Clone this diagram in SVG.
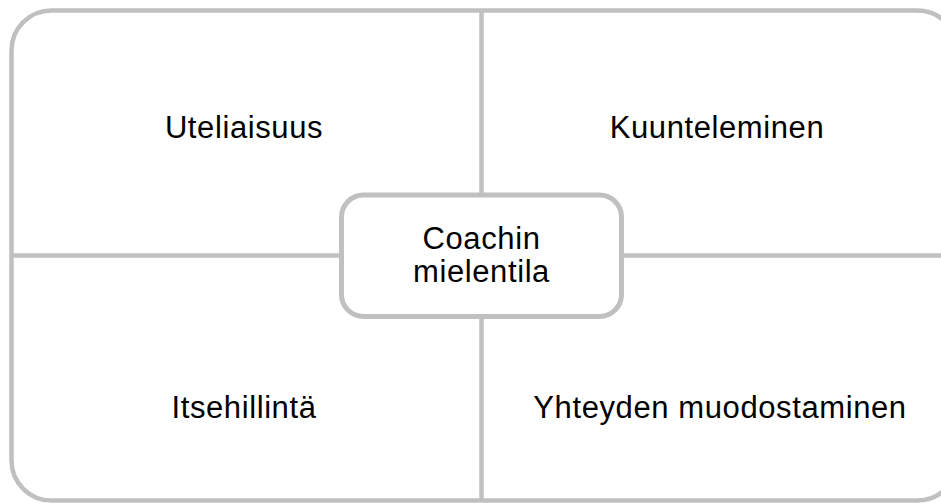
<svg xmlns="http://www.w3.org/2000/svg" width="941" height="503" viewBox="0 0 941 503">
<style>
.ln{stroke:#c0c0c0;stroke-width:4.5;fill:none}
.box{stroke:#c0c0c0;stroke-width:5;fill:#fff}
.t{font-family:"Liberation Sans",Arial,sans-serif;font-size:31px;letter-spacing:0.6px;fill:#000;text-anchor:middle}
</style>
<rect width="941" height="503" fill="#fff"/>
<g id="frame">
<rect class="ln" x="11.5" y="10.5" width="946" height="490" rx="40" ry="40"/>
</g>
<g id="connectors">
<line class="ln" x1="481.5" y1="10.5" x2="481.5" y2="500.5"/>
<line class="ln" x1="11.5" y1="255.5" x2="957.5" y2="255.5"/>
</g>
<g id="q1"><text class="t" x="244" y="138">Uteliaisuus</text></g>
<g id="q2"><text class="t" x="717" y="138">Kuunteleminen</text></g>
<g id="q3"><text class="t" x="244" y="418">Itsehillintä</text></g>
<g id="q4"><text class="t" x="720" y="418">Yhteyden muodostaminen</text></g>
<g id="center">
<rect class="box" x="341.5" y="195" width="280" height="121.5" rx="22" ry="22"/>
<text class="t" x="481.5" y="249">Coachin</text>
<text class="t" x="481.5" y="282">mielentila</text>
</g>
</svg>
